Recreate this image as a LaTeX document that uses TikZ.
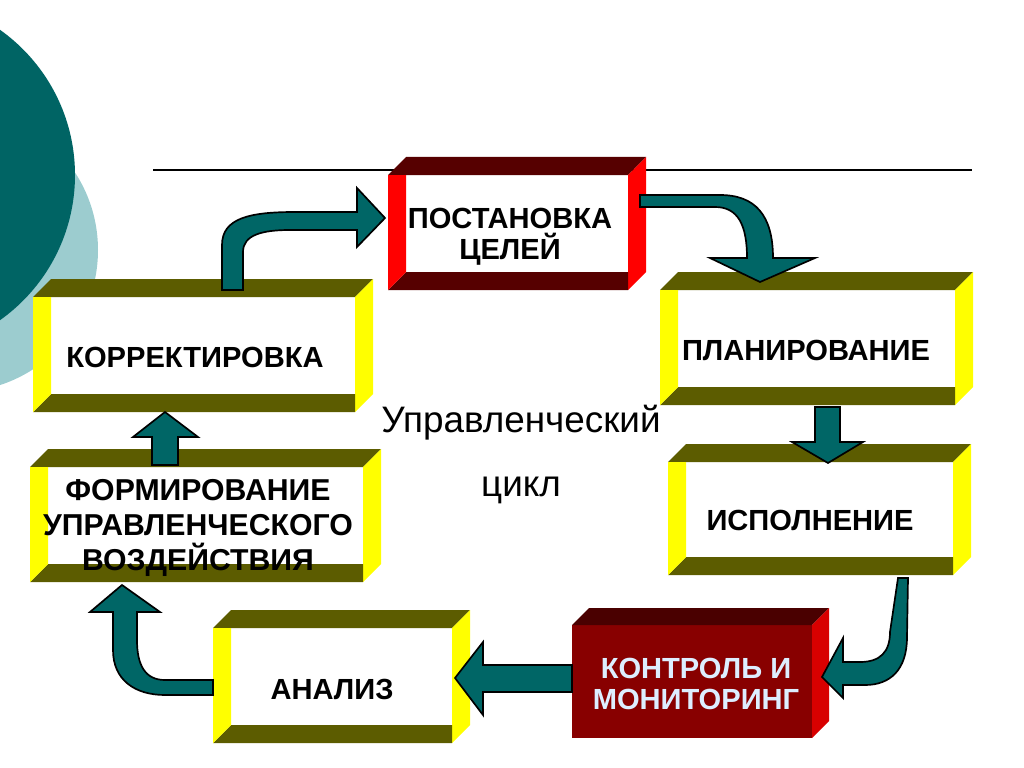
\documentclass[tikz,border=0pt]{standalone}
\usepackage{fontspec}
\setmainfont{Liberation Sans}

\definecolor{darkteal}{HTML}{006464}
\definecolor{lightteal}{HTML}{9CCCCF}
\definecolor{arrowteal}{HTML}{006666}
\definecolor{boxolive}{HTML}{5C5C00}
\definecolor{boxyellow}{HTML}{FFFF00}
\definecolor{boxred}{HTML}{FF0000}
\definecolor{boxmaroon}{HTML}{560000}
\definecolor{ctrlfront}{HTML}{880000}
\definecolor{ctrltop}{HTML}{4A0000}
\definecolor{ctrlside}{HTML}{D80000}
\definecolor{ctrltext}{HTML}{DDEEFF}

% hollow box: front top-left (x0,y0), front bottom-right (x1,y1), side colour, top colour
\newcommand{\hollowbox}[6]{%
  \fill[white] (#1,#2) rectangle (#3,#4);
  \fill[#6] (#1,#2) -- ++(18,-18) -- (#3+18,#2-18) -- (#3,#2) -- cycle; % top face
  \fill[#5] (#3,#2) -- ++(18,-18) -- (#3+18,#4-18) -- (#3,#4) -- cycle; % right face
  \fill[#6] (#1,#4) -- (#3,#4) -- (#3,#4-18) -- (#1+18,#4-18) -- cycle; % inner bottom
  \fill[#5] (#1,#2) -- (#1+18,#2) -- (#1+18,#4-18) -- (#1,#4) -- cycle; % inner left
}

\begin{document}
\begin{tikzpicture}[x=0.025cm, y=-0.025cm,
    boxtext/.style={font=\bfseries\fontsize{20.7}{21}\selectfont, align=center},
    blockarrow/.style={fill=arrowteal, draw=black, line width=1.2pt, line join=miter}]
    \useasboundingbox (0,0) rectangle (1024,768);
    % circles at the left edge
    \begin{scope}
        \clip (0,0) rectangle (1024,768);
        \fill[lightteal] (-44,250) circle[radius=142];
        \fill[darkteal] (-103,175) circle[radius=178];
    \end{scope}
    \draw[line width=0.8pt] (153,170) -- (972,170);

    % boxes
    \hollowbox{388}{175}{628}{290}{boxred}{boxmaroon}
    \hollowbox{33}{297}{355}{412}{boxyellow}{boxolive}
    \hollowbox{660}{290}{955}{405}{boxyellow}{boxolive}
    \hollowbox{668}{462}{953}{575}{boxyellow}{boxolive}
    \hollowbox{30}{467}{363}{582}{boxyellow}{boxolive}
    \hollowbox{213}{628}{452}{743}{boxyellow}{boxolive}
    % solid box
    \fill[ctrlfront] (572,625) rectangle (812,738);
    \fill[ctrltop] (572,625) -- (589,608) -- (829,608) -- (812,625) -- cycle;
    \fill[ctrlside] (812,625) -- (829,608) -- (829,721) -- (812,738) -- cycle;

    % texts
    \node[boxtext, font=\bfseries\fontsize{20.7}{22}\selectfont] (goals) at (510,237) {ПОСТАНОВКА\\ЦЕЛЕЙ};
    \node[boxtext] (correct) at (195,357) {КОРРЕКТИРОВКА};
    \node[boxtext] (plan) at (806,350) {ПЛАНИРОВАНИЕ};
    \node[boxtext] (exec) at (810,520) {ИСПОЛНЕНИЕ};
    \node[boxtext, font=\bfseries\fontsize{21.5}{25.2}\selectfont] (form) at (198,528) {ФОРМИРОВАНИЕ\\УПРАВЛЕНЧЕСКОГО\\ВОЗДЕЙСТВИЯ};
    \node[boxtext] (analysis) at (332,689) {АНАЛИЗ};
    \node[boxtext, font=\bfseries\fontsize{20.7}{22}\selectfont, text=ctrltext] (control) at (696,684) {КОНТРОЛЬ И\\МОНИТОРИНГ};
    \node[font=\fontsize{26.2}{30}\selectfont, anchor=base] (cycle1) at (521,432) {Управленческий};
    \node[font=\fontsize{26.2}{30}\selectfont, anchor=base] (cycle2) at (521,496) {цикл};

    % arrows
    \draw[blockarrow] (222,290) -- (222,245) .. controls (222,218) and (250,212) .. (295,212)
        -- (357,212) -- (357,188) -- (385,218) -- (357,247) -- (357,230) -- (290,230)
        .. controls (262,230) and (243,235) .. (243,252) -- (243,290) -- cycle;
    \draw[blockarrow] (640,195) -- (720,195) .. controls (755,195) and (773,215) .. (773,258)
        -- (815,258) -- (760,282) -- (710,258) -- (747,258)
        .. controls (747,225) and (738,207) .. (715,207) -- (640,207) -- cycle;
    \draw[blockarrow] (815,407) -- (840,407) -- (840,442) -- (863,442) -- (828,463)
        -- (792,442) -- (815,442) -- cycle;
    \draw[blockarrow] (898,578) -- (908,578) -- (907,637) .. controls (907,670) and (890,685) .. (865,685)
        -- (843,685) -- (843,698) -- (822,677) -- (843,638) -- (843,662) -- (860,662)
        .. controls (880,662) and (890,652) .. (890,632) -- cycle;
    \draw[blockarrow] (572,665) -- (483,665) -- (483,642) -- (455,678) -- (483,715)
        -- (483,692) -- (572,692) -- cycle;
    \draw[blockarrow] (213,680) -- (165,680) .. controls (145,680) and (137,665) .. (137,640)
        -- (137,612) -- (160,612) -- (122,585) -- (90,612) -- (113,612) -- (113,650)
        .. controls (113,680) and (135,695) .. (165,695) -- (213,695) -- cycle;
    \draw[blockarrow] (152,465) -- (178,465) -- (178,437) -- (198,437) -- (165,412)
        -- (133,437) -- (152,437) -- cycle;
\end{tikzpicture}
\end{document}
